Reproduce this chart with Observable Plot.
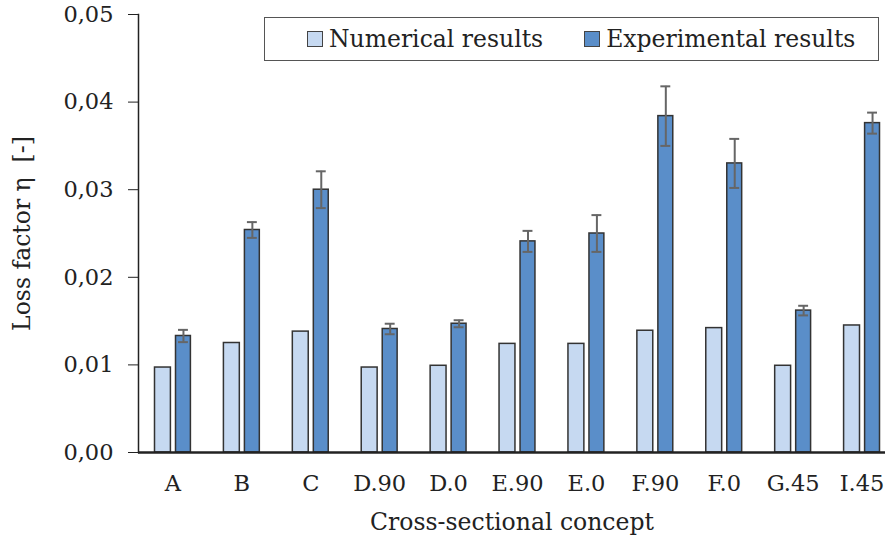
<!DOCTYPE html>
<html>
<head>
<meta charset="utf-8">
<script src="https://cdn.jsdelivr.net/npm/d3@7"></script>
<script src="https://cdn.jsdelivr.net/npm/@observablehq/plot@0.6"></script>
<style>
  html, body { margin: 0; padding: 0; background: #fff; }
  #wrap { position: relative; width: 885px; height: 543px; font-family: "DejaVu Serif", serif; }
  #legend { position: absolute; left: 264px; top: 17px; width: 615px; height: 44px; box-sizing: border-box;
            border: 1.5px solid #555; background: #fff; display: flex; align-items: center; font-size: 23.5px; color: #222; }
  .sw { display: inline-block; width: 14px; height: 14px; border: 1px solid #444; margin-right: 6px; }
  .item { display: flex; align-items: center; }
  svg text { font-family: "DejaVu Serif", serif !important; }
</style>
</head>
<body>
<div id="wrap">
  <div id="chart"></div>
  <div id="legend">
    <span class="item" style="margin-left:42px"><span class="sw" style="background:#c6d9f1"></span>Numerical results</span>
    <span class="item" style="margin-left:41px"><span class="sw" style="background:#5a8ec9"></span>Experimental results</span>
  </div>
</div>
<script>
const categories = ["A", "B", "C", "D.90", "D.0", "E.90", "E.0", "F.90", "F.0", "G.45", "I.45"];
const numerical = [0.0097, 0.0125, 0.0138, 0.0097, 0.0099, 0.0124, 0.0124, 0.0139, 0.0142, 0.0099, 0.0145];
const experimental = [0.0133, 0.0254, 0.0300, 0.0141, 0.0147, 0.0241, 0.0250, 0.0384, 0.0330, 0.0162, 0.0376];
const expError = [0.0007, 0.0009, 0.0021, 0.0006, 0.0004, 0.0012, 0.0021, 0.0034, 0.0028, 0.00055, 0.0012];
const yTicks = [0, 0.01, 0.02, 0.03, 0.04, 0.05];

const numData = categories.map((c, i) => ({cat: c, v: numerical[i]}));
const expData = categories.map((c, i) => ({cat: c, v: experimental[i], lo: experimental[i] - expError[i], hi: experimental[i] + expError[i]}));

const fmt = d => d3.format(".2f")(d).replace(".", ",");

const chart = Plot.plot({
  width: 885,
  height: 543,
  marginLeft: 138,
  marginRight: 0,
  marginTop: 14,
  marginBottom: 91,
  style: {fontFamily: "'DejaVu Serif', serif", fontSize: "22.5px", color: "#222", background: "#fff"},
  x: {domain: categories, range: [138, 896], padding: 0, round: false},
  y: {domain: [0, 0.05]},
  marks: [
    Plot.barY(numData, {x: "cat", y: "v", fill: "#c6d9f1", stroke: "#333", strokeWidth: 1.5, insetLeft: 16.5, insetRight: 36.5}),
    Plot.barY(expData, {x: "cat", y: "v", fill: "#5a8ec9", stroke: "#333", strokeWidth: 1.5, insetLeft: 37.5, insetRight: 16.5}),
    Plot.ruleX(expData, {x: "cat", y1: "lo", y2: "hi", stroke: "#666", strokeWidth: 2, dx: 10.5}),
    Plot.tickY(expData, {x: "cat", y: "lo", stroke: "#666", strokeWidth: 2, insetLeft: 40, insetRight: 19}),
    Plot.tickY(expData, {x: "cat", y: "hi", stroke: "#666", strokeWidth: 2, insetLeft: 40, insetRight: 19}),
    Plot.frame({anchor: "left", stroke: "#222", strokeWidth: 1.5}),
    Plot.ruleY([0], {stroke: "#222", strokeWidth: 2.5}),
    Plot.axisY(yTicks, {tickFormat: fmt, tickSize: 10, tickPadding: 15, stroke: "#222", label: null, fontSize: 22.5}),
    Plot.axisX({tickSize: 0, tickPadding: 23, label: null, fontSize: 22.5}),
    Plot.text(["Loss factor η  [-]"], {frameAnchor: "left", dx: -116, rotate: -90, textAnchor: "middle", lineAnchor: "middle", fontSize: 23.5, fill: "#222"}),
    Plot.text(["Cross-sectional concept"], {frameAnchor: "bottom", dy: 70, textAnchor: "middle", lineAnchor: "middle", fontSize: 23.5, fill: "#222"})
  ]
});
document.getElementById("chart").appendChild(chart);
</script>
</body>
</html>
